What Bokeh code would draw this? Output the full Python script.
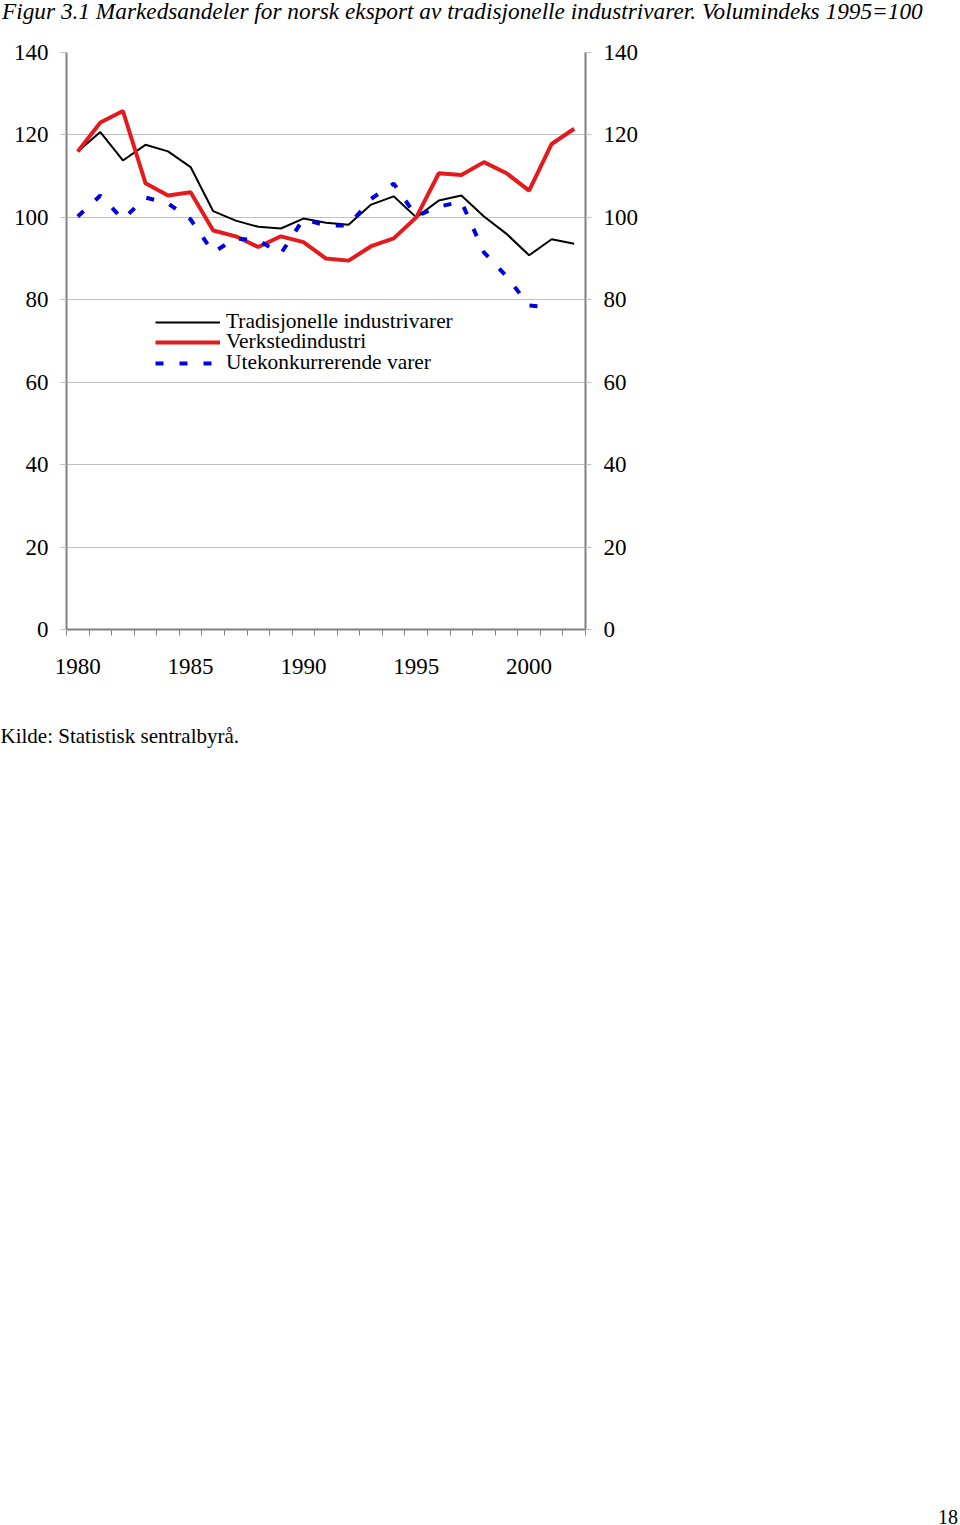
from bokeh.plotting import figure
from bokeh.models import (Range1d, LinearAxis, FixedTicker, Legend, LegendItem, Title, Div)
from bokeh.layouts import column
from bokeh.embed import file_html
from bokeh.resources import INLINE

years = list(range(1980, 2003))
tradisjonelle = [116.0, 120.7, 113.8, 117.6, 116.0, 112.2, 101.5, 99.2, 97.7, 97.3, 99.7,
                 98.7, 98.2, 103.1, 105.1, 100.0, 104.1, 105.3, 100.2, 96.0, 90.8, 94.7, 93.6]
verksted = [116.0, 123.0, 125.8, 108.3, 105.3, 106.1, 96.8, 95.4, 92.8, 95.4, 94.0,
            90.0, 89.5, 93.0, 94.9, 100.0, 110.7, 110.3, 113.4, 110.7, 106.5, 117.8, 121.5]
blue_years = list(range(1980, 2002))
utekonk = [100.2, 105.3, 99.5, 104.8, 103.4, 99.5, 91.5, 94.9, 94.4, 91.2, 99.6,
           98.0, 98.0, 104.5, 108.2, 100.3, 102.6, 103.8, 91.5, 85.7, 78.6, 78.2]
x_tick_years = [1980, 1985, 1990, 1995, 2000]
y_ticks = [0, 20, 40, 60, 80, 100, 120, 140]

names = ["Tradisjonelle industrivarer", "Verkstedindustri", "Utekonkurrerende varer"]
title_text = "Figur 3.1 Markedsandeler for norsk eksport av tradisjonelle industrivarer. Volumindeks 1995=100"
source_text = "Kilde: Statistisk sentralbyrå."
page_text = "18"

SERIF = "Liberation Serif"
W, H = 960, 1525
TOP_DIV, BOT_DIV = 30, 30
PH = H - TOP_DIV - BOT_DIV
FL, FR, FT, FB = 66, 585, 52 - TOP_DIV, 629 - TOP_DIV
X0, X1 = 1979.5, 2002.5
Y0, Y1 = 0, 140

title_div = Div(width=W, height=TOP_DIV, margin=0,
                text=('<div style="font-family:\'Liberation Serif\';font-style:italic;'
                      'font-size:23.3px;line-height:22px;margin:0;padding:0 0 0 2px;'
                      'white-space:nowrap;color:black">' + title_text + '</div>'))
page_div = Div(width=W, height=BOT_DIV, margin=0,
               text=('<div style="font-family:\'Liberation Serif\';font-size:20px;'
                     'line-height:16px;margin:0;padding:14px 1px 0 0;text-align:right;'
                     'width:959px;color:black">' + page_text + '</div>'))

p = figure(width=W, height=PH, output_backend="svg", toolbar_location=None,
           x_range=Range1d(X0, X1), y_range=Range1d(Y0, Y1),
           min_border_left=FL, min_border_right=W - FR,
           min_border_top=FT, min_border_bottom=PH - FB, margin=0)
p.outline_line_color = None
p.background_fill_color = "white"
p.border_fill_color = "white"

# grid
p.xgrid.visible = False
p.ygrid.ticker = FixedTicker(ticks=y_ticks)
p.ygrid.grid_line_color = "#c0c0c0"
p.ygrid.grid_line_width = 1


def style_y(ax):
    ax.ticker = FixedTicker(ticks=y_ticks)
    ax.axis_line_color = "#808080"
    ax.axis_line_width = 2
    ax.major_tick_in = 0
    ax.major_tick_out = 6
    ax.major_tick_line_color = "#c0c0c0"
    ax.minor_tick_line_color = None
    ax.major_label_standoff = 12
    ax.major_label_text_font = SERIF
    ax.major_label_text_font_size = "23px"
    ax.major_label_text_color = "black"


style_y(p.yaxis[0])
ra = LinearAxis()
style_y(ra)
p.add_layout(ra, "right")

# x axis
xa = p.xaxis[0]
xa.ticker = FixedTicker(ticks=x_tick_years,
                        minor_ticks=[y - 0.5 for y in years] + [years[-1] + 0.5])
xa.axis_line_color = "#808080"
xa.axis_line_width = 2
xa.major_tick_line_color = None
xa.major_tick_in = 0
xa.major_tick_out = 0
xa.minor_tick_in = 0
xa.minor_tick_out = 6
xa.minor_tick_line_color = "#808080"
xa.major_label_standoff = 23
xa.major_label_text_font = SERIF
xa.major_label_text_font_size = "23px"
xa.major_label_text_color = "black"

r1 = p.line(years, tradisjonelle, line_color="black", line_width=2)
r2 = p.line(years, verksted, line_color="#e41a1c", line_width=4)
r3 = p.line(blue_years, utekonk, line_color="#0000dd", line_width=4, line_dash="8 16")

# one legend per row for exact row pitch (row centres at 321, 341, 362 px)
for rend, name, yloc in zip([r1, r2, r3], names, [295, 275, 254]):
    lg = Legend(items=[LegendItem(label=name, renderers=[rend])], location=(89, yloc))
    lg.border_line_color = None
    lg.background_fill_alpha = 0
    lg.padding = 0
    lg.margin = 0
    lg.spacing = 0
    lg.glyph_width = 65
    lg.glyph_height = 20
    lg.label_height = 20
    lg.label_standoff = 6
    lg.label_text_font = SERIF
    lg.label_text_font_size = "21.4px"
    lg.label_text_color = "black"
    p.add_layout(lg, "center")

p.add_layout(Title(text=source_text, align="left", offset=-66, standoff=90,
                   text_font=SERIF, text_font_style="normal", text_font_size="21px",
                   text_color="black"), "below")

layout = column(title_div, p, page_div, spacing=0, margin=0)

open("out.html", "w").write(file_html(layout, INLINE))
